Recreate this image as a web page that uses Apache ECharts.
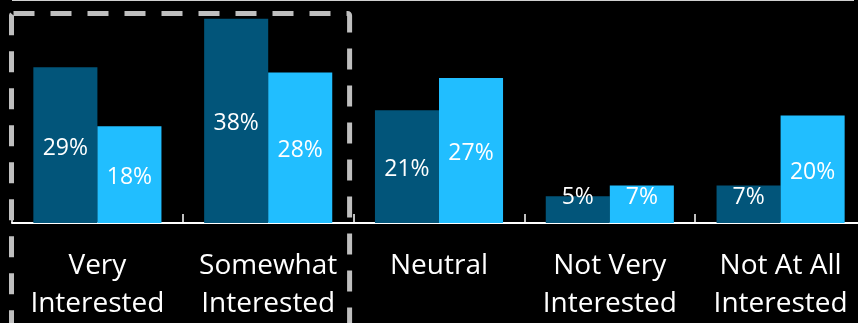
<!DOCTYPE html>
<html>
<head>
<meta charset="utf-8">
<script src="https://cdn.jsdelivr.net/npm/echarts@6/dist/echarts.min.js"></script>
<style>
html,body{margin:0;padding:0;background:#000;overflow:hidden;}
#chart{width:866px;height:323px;}
</style>
</head>
<body>
<div id="chart"></div>
<script>
var categories = ['Very\nInterested', 'Somewhat\nInterested', 'Neutral', 'Not Very\nInterested', 'Not At All\nInterested'];
var seriesDark = [29, 38, 21, 5, 7];
var seriesLight = [18, 28, 27, 7, 20];

var FONT = '"Open Sans", "Noto Sans", sans-serif';

function labelled(values) {
  return values.map(function (v) {
    if (v < 10) {
      return {
        value: v,
        label: {
          position: ['50%', '100%'],
          offset: [0, -26],
          align: 'center',
          verticalAlign: 'middle'
        }
      };
    }
    return v;
  });
}

var baseLabel = {
  show: true,
  position: 'inside',
  offset: [0, 3],
  color: '#ffffff',
  fontFamily: FONT,
  fontSize: 23,
  formatter: '{c}%'
};

var chart = echarts.init(document.getElementById('chart'), null, {renderer: 'canvas'});
chart.setOption({
  backgroundColor: '#000000',
  animation: false,
  grid: {left: 12, right: 0, top: 0, bottom: 94, containLabel: false},
  xAxis: {
    type: 'category',
    data: categories,
    axisLine: {show: true, lineStyle: {color: '#ffffff', width: 2}},
    axisTick: {show: true, inside: true, length: 9, lineStyle: {color: '#ffffff', width: 1.5}},
    axisLabel: {
      interval: 0,
      color: '#ffffff',
      fontFamily: FONT,
      fontSize: 28,
      lineHeight: 38,
      margin: 24
    }
  },
  yAxis: {
    type: 'value',
    min: 0,
    max: 41.5,
    show: false,
    splitLine: {show: false}
  },
  series: [
    {
      type: 'bar',
      data: labelled(seriesDark),
      itemStyle: {color: '#02557A'},
      barGap: '0%',
      barCategoryGap: '25%',
      label: baseLabel
    },
    {
      type: 'bar',
      data: labelled(seriesLight),
      itemStyle: {color: '#21BEFF'},
      barGap: '0%',
      barCategoryGap: '25%',
      label: baseLabel
    }
  ]
});

// Decorations: top rule and dashed highlight box around first two categories
var p0 = chart.convertToPixel({xAxisIndex: 0}, 0);
var p1 = chart.convertToPixel({xAxisIndex: 0}, 1);
var bw = p1 - p0;
var boxLeft = p0 - bw / 2;
var boxRight = p1 + bw / 2 - 4;
chart.setOption({
  graphic: [
    {
      type: 'line',
      shape: {x1: boxLeft, y1: 0.5, x2: 854, y2: 0.5},
      style: {stroke: '#d0d0d0', lineWidth: 1}
    },
    {
      type: 'rect',
      shape: {x: boxLeft - 0.5, y: 13.5, width: boxRight - boxLeft + 0.5, height: 360, r: 2},
      style: {fill: 'none', stroke: '#bfbfbf', lineWidth: 5, lineDash: [21, 16]},
      z: 10
    }
  ]
});
</script>
</body>
</html>
